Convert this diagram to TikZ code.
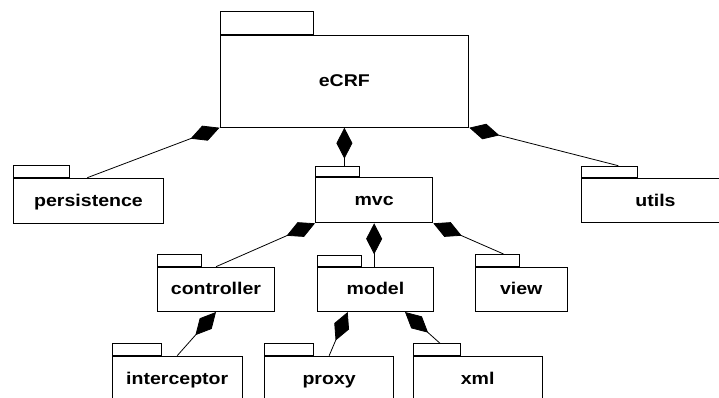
\documentclass[tikz,border=0pt]{standalone}
\usepackage{fontspec}
\setmainfont{Liberation Sans}
\newfontfamily\pkgfont[FakeStretch=1.15]{Liberation Sans Bold}
\usetikzlibrary{arrows.meta,calc}
\begin{document}
\begin{tikzpicture}[x=1pt,y=-1pt,
  pkg/.style={draw, line width=1pt, anchor=north west, inner sep=0pt,
    text height=14pt, text depth=3pt,
    font=\pkgfont\fontsize{17}{20}\selectfont},
  tab/.style={draw, line width=1pt, anchor=south west, inner sep=0pt},
  link/.style={line width=0.8pt, {Diamond[length=31pt,width=16pt]}-}]
\useasboundingbox (0,0) rectangle (719,398);
\clip (0,0) rectangle (719,398);

% package bodies with their tabs
\node[pkg, minimum width=248.8pt, minimum height=92pt] (eCRF) at (219.5,34.7) {eCRF};
\node[tab, minimum width=93pt, minimum height=22.4pt] (eCRF-tab) at (eCRF.north west) {};

\node[pkg, minimum width=150.6pt, minimum height=45.3pt] (persistence) at (12.7,177.7) {persistence};
\node[tab, minimum width=56.3pt, minimum height=11.7pt] (persistence-tab) at (persistence.north west) {};

\node[pkg, minimum width=117.3pt, minimum height=45pt] (mvc) at (315,177.3) {mvc};
\node[tab, minimum width=44pt, minimum height=10.6pt] (mvc-tab) at (mvc.north west) {};

\node[pkg, minimum width=148pt, minimum height=44.6pt] (utils) at (581,177.7) {utils};
\node[tab, minimum width=56.3pt, minimum height=11pt] (utils-tab) at (utils.north west) {};

\node[pkg, minimum width=117.6pt, minimum height=44.3pt] (controller) at (156.7,266.7) {controller};
\node[tab, minimum width=44.3pt, minimum height=11.7pt] (controller-tab) at (controller.north west) {};

\node[pkg, minimum width=116.6pt, minimum height=44.3pt] (model) at (316.7,266.7) {model};
\node[tab, minimum width=44.3pt, minimum height=11pt] (model-tab) at (model.north west) {};

\node[pkg, minimum width=91.5pt, minimum height=44.3pt] (view) at (475,266.7) {view};
\node[tab, minimum width=44pt, minimum height=11.7pt] (view-tab) at (view.north west) {};

\node[pkg, minimum width=130pt, minimum height=45pt] (interceptor) at (111.7,355.7) {interceptor};
\node[tab, minimum width=49pt, minimum height=11.4pt] (interceptor-tab) at (interceptor.north west) {};

\node[pkg, minimum width=129.3pt, minimum height=45pt] (proxy) at (264,355.7) {proxy};
\node[tab, minimum width=48.7pt, minimum height=11.4pt] (proxy-tab) at (proxy.north west) {};

\node[pkg, minimum width=129pt, minimum height=45pt] (xml) at (412.7,355.7) {xml};
\node[tab, minimum width=47.3pt, minimum height=11.4pt] (xml-tab) at (xml.north west) {};

% composition links (diamond at the owning package)
\draw[link] (eCRF.south west) -- ($(persistence.north west)+(74.6,0)$);
\draw[link] (eCRF.south) -- (eCRF.south |- mvc-tab.north);
\draw[link] (eCRF.south east) -- ($(utils-tab.north west)+(37.3,0)$);
\draw[link] (mvc.south west) -- (controller.north);
\draw[link] (mvc.south) -- (mvc.south |- model.north);
\draw[link] (mvc.south east) -- ($(view-tab.north west)+(28.5,0)$);
\draw[link] (controller.south) -- (interceptor.north);
\draw[link] ($(model.south west)+(31,0)$) -- (proxy.north);
\draw[link] ($(model.south west)+(88.3,0)$) -- ($(xml-tab.north west)+(27.3,0)$);
\end{tikzpicture}
\end{document}
